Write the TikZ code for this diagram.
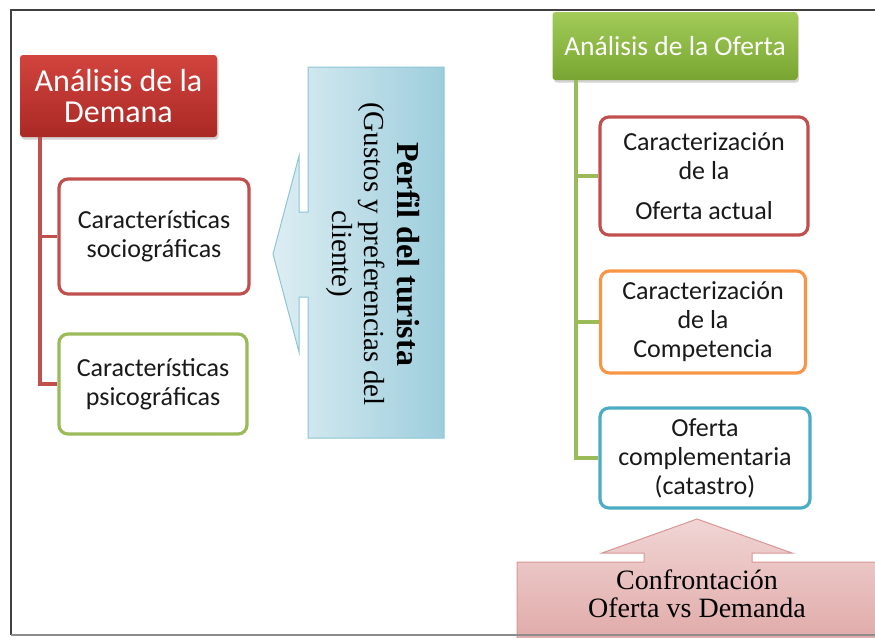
\documentclass[tikz,border=0pt]{standalone}
\usepackage{fontspec}
\setmainfont{Liberation Serif}
\setsansfont{Carlito}
\usetikzlibrary{shadows}

\definecolor{framegray}{HTML}{404040}
\definecolor{demred}{HTML}{C0504D}
\definecolor{hdrredtop}{HTML}{D2443E}
\definecolor{hdrredbot}{HTML}{AA2925}
\definecolor{hdrgreentop}{HTML}{A2CB58}
\definecolor{hdrgreenbot}{HTML}{78A531}
\definecolor{ofgreen}{HTML}{9BBB59}
\definecolor{comporange}{HTML}{F79646}
\definecolor{catblue}{HTML}{4BACC6}
\definecolor{arrowblue}{HTML}{8CC5D6}
\definecolor{arrowpink}{HTML}{D99694}

\tikzset{
  header/.style={rectangle, rounded corners=3pt, text=white, align=center,
    drop shadow={opacity=0.35, shadow xshift=1.5pt, shadow yshift=-2.5pt}},
  itembox/.style={rectangle, rounded corners=9pt, line width=3.2pt, fill=white,
    align=center, text=black!90, inner sep=0pt,
    font=\sffamily\fontsize{26}{29}\selectfont},
  trunk/.style={line width=3.6pt}
}

\begin{document}
\begin{tikzpicture}[x=1pt, y=-1pt]
  \useasboundingbox (0,0) rectangle (875,637);

  % the two big arrows
  \draw[arrowblue, line width=1, left color=arrowblue!30, right color=arrowblue!85]
  (308,67) -- (444,67) -- (444,438) -- (308,438) -- (308,297) -- (299,297)
  -- (299,352) -- (273,254) -- (299,156) -- (299,212) -- (308,212) -- cycle;
  \node[rotate=-90, align=center, font=\fontsize{29}{32.5}\selectfont] (perfil)
  at ({373}, {254}) {{\fontsize{32}{32.5}\selectfont\textbf{Perfil del turista}}\\(Gustos y preferencias del\\cliente)};

  \draw[arrowpink, line width=1, top color=arrowpink!40, bottom color=arrowpink!80]
  (517,562) -- (644,562) -- (644,553) -- (602,553) -- (697,519) -- (792,553)
  -- (752,553) -- (752,562) -- (880,562) -- (880,640) -- (517,640) -- cycle;
  \node[align=center, font=\fontsize{28}{28}\selectfont] (confront)
  at ({697}, {594}) {Confrontación\\Oferta vs Demanda};

  % demand side
  \node[header, top color=hdrredtop, bottom color=hdrredbot,
    minimum width=197, minimum height=82,
    font=\sffamily\fontsize{32}{31}\selectfont] (demanda)
  at ({118.5}, {96}) {Análisis de la\\Demana};
  \node[itembox, draw=demred, minimum width=190, minimum height=115] (socio)
  at ({154}, {236.5}) {Características\\sociográficas};
  \node[itembox, draw=ofgreen, minimum width=188, minimum height=100] (psico)
  at ({153}, {384}) {Características\\psicográficas};

  \coordinate (dtop) at ({40}, {137});
  \draw[trunk, demred] (dtop) |- (socio.west);
  \draw[trunk, demred] (dtop) |- (psico.west);

  % offer side
  \node[header, top color=hdrgreentop, bottom color=hdrgreenbot,
    minimum width=245, minimum height=68,
    font=\sffamily\fontsize{27.5}{30}\selectfont] (oferta)
  at ({675}, {46}) {Análisis de la Oferta};
  \node[itembox, draw=demred, minimum width=208, minimum height=118] (actual)
  at ({704}, {176}) {Caracterización\\de la\\[11pt]Oferta actual};
  \node[itembox, draw=comporange, minimum width=205, minimum height=102] (compet)
  at ({703}, {322}) {Caracterización\\de la\\Competencia};
  \node[itembox, draw=catblue, minimum width=210, minimum height=100] (catastro)
  at ({705}, {458}) {Oferta\\complementaria\\(catastro)};

  \coordinate (otop) at ({576}, {80});
  \foreach \b in {actual, compet, catastro}
  {
    \draw[trunk, ofgreen] (otop) |- (\b.west);
  }

  % frame of the slide
  \draw[framegray, line width=1.5] (875,10) -- (11,10) -- (11,635);
  \draw[black!45, line width=1.5] (11,635) -- (875,635);

\end{tikzpicture}
\end{document}
